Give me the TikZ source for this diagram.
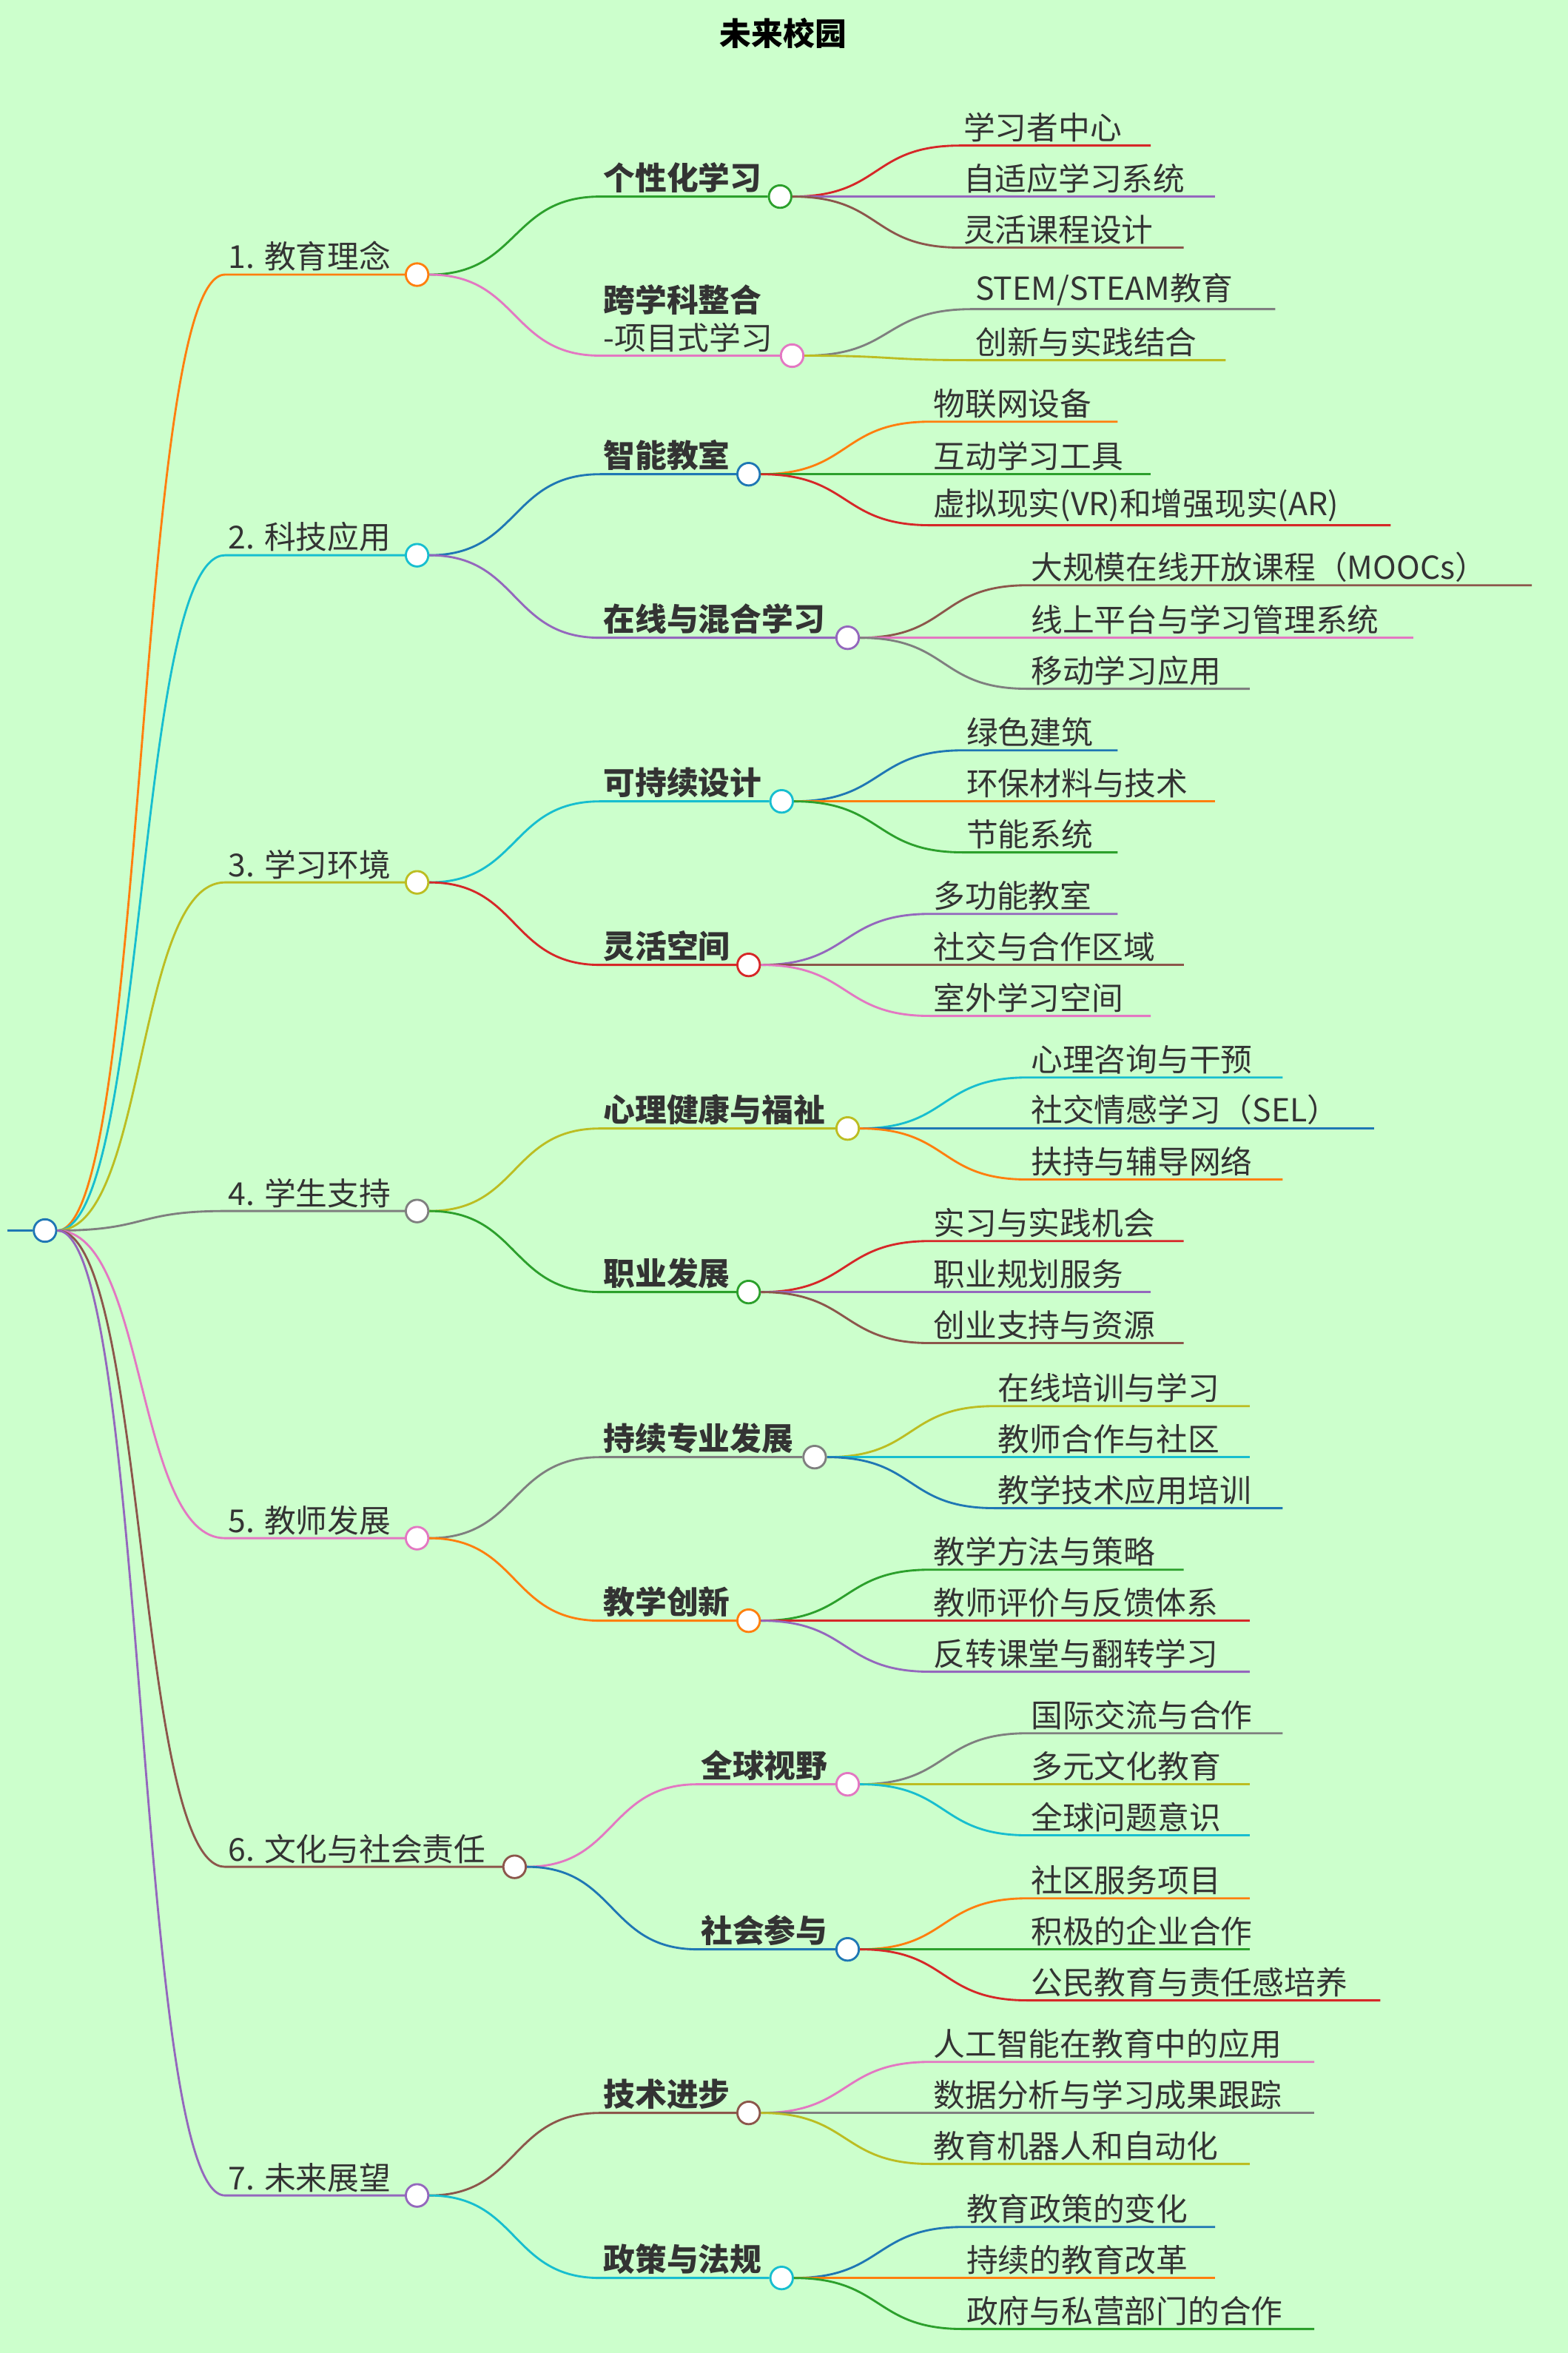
\documentclass[tikz,border=0pt]{standalone}
\usepackage{fontspec}
\setmainfont{Noto Sans CJK SC}
\usepackage{tikz}
\usetikzlibrary{positioning,calc}

\definecolor{bg}{HTML}{CCFFCC}
\definecolor{cblue}{HTML}{1F77B4}
\definecolor{corange}{HTML}{FF7F0E}
\definecolor{cgreen}{HTML}{2CA02C}
\definecolor{cred}{HTML}{D62728}
\definecolor{cpurple}{HTML}{9467BD}
\definecolor{cbrown}{HTML}{8C564B}
\definecolor{cpink}{HTML}{E377C2}
\definecolor{cgray}{HTML}{7F7F7F}
\definecolor{colive}{HTML}{BCBD22}
\definecolor{ccyan}{HTML}{17BECF}
\definecolor{ink}{HTML}{333333}

% name, parent, y, start x, end x, colour, text
\newcommand\topic[7]{%
  \node[dot,draw=#6] (#1) at (#5,#3) {};
  \coordinate (#1-s) at (#4,#3);
  \draw[link,#6] (#2.east) .. controls +(60,0) and +(-60,0) .. (#1-s) -- (#1.west);
  \node[lbl] (#1-t) at (#1-s) {#7};}
\newcommand\subtopic[7]{%
  \node[dot,draw=#6] (#1) at (#5,#3) {};
  \coordinate (#1-s) at (#4,#3);
  \draw[link,#6] (#2.east) .. controls +(60,0) and +(-60,0) .. (#1-s) -- (#1.west);
  \node[lbl,font=\fontsize{30}{36}\selectfont\bfseries] (#1-t) at (#1-s) {#7};}
\newcommand\leaf[7]{%
  \coordinate (#1) at (#5,#3);
  \coordinate (#1-s) at (#4,#3);
  \draw[link,#6] (#2.east) .. controls +(60,0) and +(-60,0) .. (#1-s) -- (#1);
  \node[lbl] (#1-t) at (#1-s) {#7};}

\begin{document}
\begin{tikzpicture}[
    x=0.05cm, y=-0.05cm,
    dot/.style={circle, fill=white, line width=2pt, minimum size=0.75cm, inner sep=0pt},
    link/.style={line width=2pt},
    lbl/.style={anchor=south west, inner sep=3pt, text=ink, align=left, font=\fontsize{30}{36}\selectfont}
]
\useasboundingbox[fill=bg] (0,0) rectangle (1045,1568);

\node[font=\fontsize{30}{36}\selectfont\bfseries, text=black] (title) at (522,22) {未来校园};

\node[dot,draw=cblue] (root) at (30,820) {};
\coordinate (stub) at (5,820);
\draw[link,cblue] (stub) -- (root.west);

% 1
\topic{t1}{root}{183}{150}{278}{corange}{1. 教育理念}
\subtopic{t1a}{t1}{131}{400}{520}{cgreen}{个性化学习}
\leaf{l1a1}{t1a}{97}{640}{767}{cred}{学习者中心}
\leaf{l1a2}{t1a}{131}{640}{810}{cpurple}{自适应学习系统}
\leaf{l1a3}{t1a}{165}{640}{789}{cbrown}{灵活课程设计}
\subtopic{t1b}{t1}{237}{400}{528}{cpink}{跨学科整合\\\mdseries -项目式学习}
\leaf{l1b1}{t1b}{206}{648}{850}{cgray}{STEM/STEAM教育}
\leaf{l1b2}{t1b}{240}{648}{817}{colive}{创新与实践结合}

% 2
\topic{t2}{root}{370}{150}{278}{ccyan}{2. 科技应用}
\subtopic{t2a}{t2}{316}{400}{499}{cblue}{智能教室}
\leaf{l2a1}{t2a}{281}{620}{745}{corange}{物联网设备}
\leaf{l2a2}{t2a}{316}{620}{767}{cgreen}{互动学习工具}
\leaf{l2a3}{t2a}{350}{620}{927}{cred}{虚拟现实(VR)和增强现实(AR)}
\subtopic{t2b}{t2}{425}{400}{565}{cpurple}{在线与混合学习}
\leaf{l2b1}{t2b}{390}{685}{1021}{cbrown}{大规模在线开放课程（MOOCs）}
\leaf{l2b2}{t2b}{425}{685}{942}{cpink}{线上平台与学习管理系统}
\leaf{l2b3}{t2b}{459}{685}{833}{cgray}{移动学习应用}

% 3
\topic{t3}{root}{588}{150}{278}{colive}{3. 学习环境}
\subtopic{t3a}{t3}{534}{400}{521}{ccyan}{可持续设计}
\leaf{l3a1}{t3a}{500}{642}{745}{cblue}{绿色建筑}
\leaf{l3a2}{t3a}{534}{642}{810}{corange}{环保材料与技术}
\leaf{l3a3}{t3a}{568}{642}{745}{cgreen}{节能系统}
\subtopic{t3b}{t3}{643}{400}{499}{cred}{灵活空间}
\leaf{l3b1}{t3b}{609}{620}{745}{cpurple}{多功能教室}
\leaf{l3b2}{t3b}{643}{620}{789}{cbrown}{社交与合作区域}
\leaf{l3b3}{t3b}{677}{620}{767}{cpink}{室外学习空间}

% 4
\topic{t4}{root}{807}{150}{278}{cgray}{4. 学生支持}
\subtopic{t4a}{t4}{752}{400}{565}{colive}{心理健康与福祉}
\leaf{l4a1}{t4a}{718}{685}{855}{ccyan}{心理咨询与干预}
\leaf{l4a2}{t4a}{752}{685}{916}{cblue}{社交情感学习（SEL）}
\leaf{l4a3}{t4a}{786}{685}{855}{corange}{扶持与辅导网络}
\subtopic{t4b}{t4}{861}{400}{499}{cgreen}{职业发展}
\leaf{l4b1}{t4b}{827}{620}{789}{cred}{实习与实践机会}
\leaf{l4b2}{t4b}{861}{620}{767}{cpurple}{职业规划服务}
\leaf{l4b3}{t4b}{895}{620}{789}{cbrown}{创业支持与资源}

% 5
\topic{t5}{root}{1025}{150}{278}{cpink}{5. 教师发展}
\subtopic{t5a}{t5}{971}{400}{543}{cgray}{持续专业发展}
\leaf{l5a1}{t5a}{937}{663}{833}{colive}{在线培训与学习}
\leaf{l5a2}{t5a}{971}{663}{833}{ccyan}{教师合作与社区}
\leaf{l5a3}{t5a}{1005}{663}{855}{cblue}{教学技术应用培训}
\subtopic{t5b}{t5}{1080}{400}{499}{corange}{教学创新}
\leaf{l5b1}{t5b}{1046}{620}{789}{cgreen}{教学方法与策略}
\leaf{l5b2}{t5b}{1080}{620}{833}{cred}{教师评价与反馈体系}
\leaf{l5b3}{t5b}{1114}{620}{833}{cpurple}{反转课堂与翻转学习}

% 6
\topic{t6}{root}{1244}{150}{343}{cbrown}{6. 文化与社会责任}
\subtopic{t6a}{t6}{1189}{465}{565}{cpink}{全球视野}
\leaf{l6a1}{t6a}{1155}{685}{855}{cgray}{国际交流与合作}
\leaf{l6a2}{t6a}{1189}{685}{833}{colive}{多元文化教育}
\leaf{l6a3}{t6a}{1223}{685}{833}{ccyan}{全球问题意识}
\subtopic{t6b}{t6}{1299}{465}{565}{cblue}{社会参与}
\leaf{l6b1}{t6b}{1265}{685}{833}{corange}{社区服务项目}
\leaf{l6b2}{t6b}{1299}{685}{833}{cgreen}{积极的企业合作}
\leaf{l6b3}{t6b}{1333}{685}{920}{cred}{公民教育与责任感培养}

% 7
\topic{t7}{root}{1463}{150}{278}{cpurple}{7. 未来展望}
\subtopic{t7a}{t7}{1408}{400}{499}{cbrown}{技术进步}
\leaf{l7a1}{t7a}{1374}{620}{876}{cpink}{人工智能在教育中的应用}
\leaf{l7a2}{t7a}{1408}{620}{876}{cgray}{数据分析与学习成果跟踪}
\leaf{l7a3}{t7a}{1442}{620}{833}{colive}{教育机器人和自动化}
\subtopic{t7b}{t7}{1518}{400}{521}{ccyan}{政策与法规}
\leaf{l7b1}{t7b}{1484}{642}{810}{cblue}{教育政策的变化}
\leaf{l7b2}{t7b}{1518}{642}{810}{corange}{持续的教育改革}
\leaf{l7b3}{t7b}{1552}{642}{876}{cgreen}{政府与私营部门的合作}

\end{tikzpicture}
\end{document}
